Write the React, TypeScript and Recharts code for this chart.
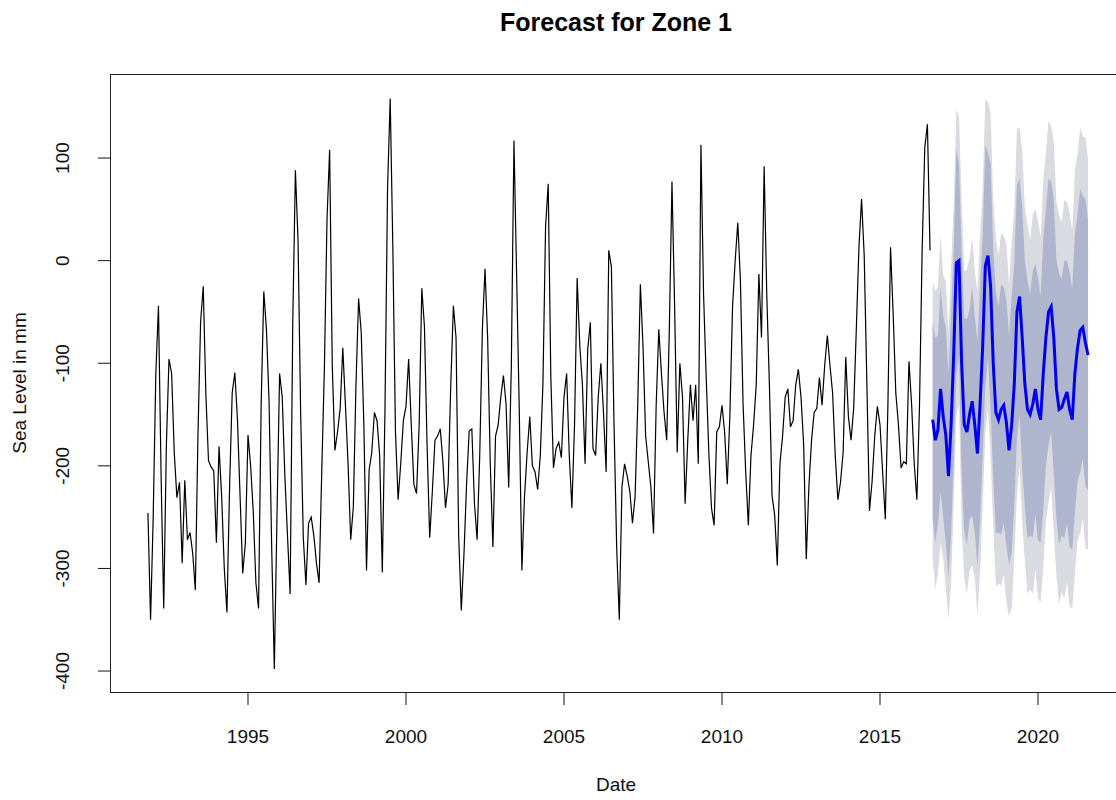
import React from "react"
import { ComposedChart, Line, Area, XAxis, YAxis } from "recharts"

// monthly observations, Nov 1991 onward (mm)
const START = 1991 + 10 / 12

const seaLevel = [
  -246, -350, -250, -110, -44, -210, -339, -180, -96, -110,
  -187, -231, -216, -295, -214, -272, -265, -285, -321, -170,
  -60, -25, -130, -195, -201, -205, -275, -181, -230, -300,
  -343, -221, -129, -109, -155, -230, -305, -275, -170, -200,
  -245, -314, -339, -140, -30, -67, -137, -280, -398, -250,
  -110, -133, -210, -268, -325, -60, 88, 20, -150, -270,
  -316, -256, -250, -268, -295, -314, -206, -106, 40, 108,
  -102, -185, -167, -144, -85, -141, -198, -272, -240, -121,
  -37, -70, -160, -302, -204, -187, -148, -156, -190, -304,
  -148, 71, 158, 13, -167, -233, -198, -156, -142, -96,
  -160, -218, -227, -160, -27, -64, -179, -270, -225, -175,
  -171, -164, -195, -241, -218, -121, -44, -75, -268, -341,
  -287, -218, -166, -164, -237, -272, -190, -67, -8, -75,
  -198, -279, -171, -160, -133, -112, -140, -221, -102, 117,
  -13, -144, -302, -230, -187, -152, -200, -206, -223, -190,
  -120, 33, 75, -114, -202, -183, -177, -192, -133, -110,
  -190, -241, -160, -17, -83, -121, -198, -87, -60, -183,
  -190, -133, -100, -148, -206, 10, -6, -160, -279, -350,
  -221, -198, -210, -225, -256, -230, -141, -23, -83, -171,
  -196, -221, -266, -141, -67, -110, -148, -175, -67, 77,
  -44, -187, -100, -133, -237, -175, -121, -156, -121, -198,
  113, -33, -114, -187, -241, -258, -167, -162, -141, -167,
  -218, -150, -45, 0, 37, -20, -140, -206, -258, -190,
  -160, -121, -13, -75, 92, -33, -121, -229, -248, -297,
  -198, -171, -133, -125, -162, -156, -121, -106, -133, -179,
  -291, -220, -175, -148, -144, -114, -141, -102, -73, -102,
  -129, -190, -233, -216, -187, -94, -152, -175, -144, -67,
  13, 60, 5, -118, -244, -215, -171, -142, -160, -206,
  -252, -141, 13, -52, -129, -160, -202, -196, -198, -98,
  -140, -198, -233, -141, 10, 110, 133, 10,
]

// 60-month forecast: point forecast and 80% / 95% intervals
const fcMean = [
  -155, -175, -165, -125, -152, -170, -210, -160, -90, -2,
  0, -100, -160, -167, -150, -137, -160, -188, -140, -83,
  -5, 5, -25, -100, -148, -155, -145, -141, -158, -185,
  -160, -120, -50, -35, -75, -120, -145, -150, -140, -125,
  -145, -155, -110, -75, -50, -45, -75, -125, -145, -143,
  -135, -128, -145, -155, -110, -85, -68, -65, -80, -92,
]
const lo95 = [
  -290, -320, -305, -275, -290, -320, -350, -315, -235, -152,
  -140, -260, -310, -325, -302, -297, -310, -346, -305, -238,
  -167, -145, -193, -260, -318, -315, -317, -306, -333, -347,
  -338, -290, -228, -200, -257, -292, -325, -320, -325, -300,
  -329, -333, -298, -255, -236, -221, -265, -307, -335, -323,
  -329, -313, -337, -339, -306, -273, -266, -251, -280, -282,
]
const lo80 = [
  -250, -275, -257, -225, -250, -275, -310, -268, -192, -112,
  -95, -208, -264, -277, -252, -249, -265, -298, -255, -191,
  -123, -95, -145, -212, -266, -265, -267, -256, -278, -297,
  -285, -238, -174, -150, -203, -240, -271, -268, -270, -247,
  -273, -275, -242, -200, -180, -167, -209, -251, -277, -268,
  -270, -256, -279, -282, -246, -215, -206, -193, -220, -224,
]
const hi80 = [
  -60, -75, -73, -25, -54, -65, -110, -52, 12, 108,
  95, 8, -56, -57, -48, -25, -55, -78, -25, 25,
  113, 105, 95, 12, -30, -45, -23, -26, -38, -73,
  -35, -2, 74, 80, 53, 0, -19, -32, -10, -3,
  -17, -35, 22, 50, 80, 77, 59, 1, -13, -18,
  0, 0, -11, -28, 26, 45, 70, 63, 60, 40,
]
const hi95 = [
  -20, -30, -25, 25, -14, -20, -70, -5, 55, 148,
  140, 60, -10, -9, 2, 23, -10, -30, 25, 72,
  157, 155, 143, 60, 22, 5, 27, 24, 17, -23,
  18, 50, 128, 130, 107, 52, 35, 20, 45, 50,
  39, 23, 78, 105, 136, 131, 115, 57, 45, 37,
  59, 57, 47, 29, 86, 103, 130, 121, 120, 98,
]

const yearTicks = [1995, 2000, 2005, 2010, 2015, 2020]
const levelTicks = [-400, -300, -200, -100, 0, 100]

type Row = {
  t: number
  sea?: number
  mean?: number
  band80?: [number, number]
  band95?: [number, number]
}

const rows: Row[] = []
seaLevel.forEach((v, i) => rows.push({ t: START + i / 12, sea: v }))
fcMean.forEach((v, j) =>
  rows.push({
    t: START + (seaLevel.length + j) / 12,
    mean: v,
    band80: [lo80[j], hi80[j]],
    band95: [lo95[j], hi95[j]],
  })
)

const FONT = "'Liberation Sans', Arial, sans-serif"
const PLOT = { left: 110, top: 74, right: 1122, bottom: 693 }
const LABEL_SIZE = 19

const XTick = (props: any) => (
  <text x={props.x} y={743} textAnchor="middle" fontSize={LABEL_SIZE} fill="#111" fontFamily={FONT}>
    {props.payload.value}
  </text>
)

const YTick = (props: any) => (
  <text
    x={69}
    y={props.y}
    transform={`rotate(-90 69 ${props.y})`}
    textAnchor="middle"
    fontSize={LABEL_SIZE}
    fill="#111"
    fontFamily={FONT}
  >
    {props.payload.value}
  </text>
)

export default function App() {
  return (
    <div
      style={{
        position: "fixed",
        left: 0,
        top: 0,
        width: 1116,
        height: 800,
        overflow: "hidden",
        background: "#fff",
        fontFamily: FONT,
      }}
    >
      <ComposedChart
        width={1140}
        height={800}
        data={rows}
        margin={{ top: PLOT.top, right: 1140 - PLOT.right, bottom: 0, left: 0 }}
      >
        <XAxis
          dataKey="t"
          type="number"
          domain={[1990.633, 2022.658]}
          ticks={yearTicks}
          allowDataOverflow
          axisLine={false}
          tickSize={12}
          tickLine={{ stroke: "#111" }}
          tick={<XTick />}
          height={800 - PLOT.bottom}
        />
        <YAxis
          type="number"
          domain={[-421.4, 181.9]}
          ticks={levelTicks}
          allowDataOverflow
          axisLine={false}
          tickSize={12}
          tickLine={{ stroke: "#111" }}
          tick={<YTick />}
          width={PLOT.left}
        />
        <Area
          dataKey="band95"
          type="linear"
          stroke="none"
          fill="#dadbe0"
          fillOpacity={1}
          isAnimationActive={false}
          activeDot={false}
        />
        <Area
          dataKey="band80"
          type="linear"
          stroke="none"
          fill="#b0b5ce"
          fillOpacity={1}
          isAnimationActive={false}
          activeDot={false}
        />
        <Line
          dataKey="sea"
          type="linear"
          stroke="#000"
          strokeWidth={1.2}
          dot={false}
          activeDot={false}
          isAnimationActive={false}
        />
        <Line
          dataKey="mean"
          type="linear"
          stroke="#0000ee"
          strokeWidth={3}
          dot={false}
          activeDot={false}
          isAnimationActive={false}
        />
      </ComposedChart>

      {/* plot frame */}
      <div
        style={{
          position: "absolute",
          left: PLOT.left,
          top: PLOT.top,
          width: PLOT.right - PLOT.left,
          height: PLOT.bottom - PLOT.top,
          border: "1px solid #222",
          boxSizing: "border-box",
          pointerEvents: "none",
        }}
      />

      <div
        style={{
          position: "absolute",
          left: 0,
          width: 1232,
          top: 8,
          textAlign: "center",
          fontWeight: "bold",
          fontSize: 25,
          lineHeight: "28px",
          color: "#000",
        }}
      >
        Forecast for Zone 1
      </div>
      <div
        style={{
          position: "absolute",
          left: 0,
          width: 1232,
          top: 774,
          textAlign: "center",
          fontSize: LABEL_SIZE,
          lineHeight: "22px",
          color: "#111",
        }}
      >
        Date
      </div>
      <div
        style={{
          position: "absolute",
          left: 20 - 150,
          top: 383 - 11,
          width: 300,
          textAlign: "center",
          fontSize: LABEL_SIZE,
          lineHeight: "22px",
          color: "#111",
          transform: "rotate(-90deg)",
        }}
      >
        Sea Level in mm
      </div>
    </div>
  )
}
